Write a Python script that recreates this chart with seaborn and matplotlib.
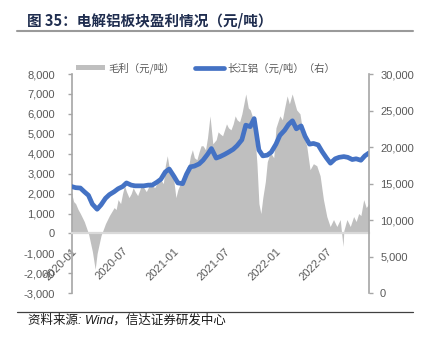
import matplotlib
matplotlib.use("Agg")
import matplotlib.pyplot as plt
from matplotlib.lines import Line2D
from matplotlib.patches import Patch
from matplotlib.ticker import FuncFormatter, FixedLocator
import seaborn as sns
import pandas as pd

# ---------------- data ----------------
profit_dates = [
    "2020-01-01", "2020-01-08", "2020-01-15", "2020-01-24", "2020-02-01", "2020-02-15",
    "2020-03-01", "2020-03-15", "2020-03-25", "2020-04-01", "2020-04-15", "2020-05-01",
    "2020-05-08", "2020-05-15", "2020-06-01", "2020-06-08", "2020-06-15", "2020-06-24",
    "2020-07-01", "2020-07-08", "2020-07-15", "2020-07-24", "2020-08-01", "2020-08-08",
    "2020-08-15", "2020-08-24", "2020-09-01", "2020-09-08", "2020-09-15", "2020-09-24",
    "2020-10-01", "2020-10-08", "2020-10-15", "2020-10-24", "2020-11-01", "2020-11-08",
    "2020-11-15", "2020-11-24", "2020-12-01", "2020-12-08", "2020-12-15", "2020-12-24",
    "2021-01-01", "2021-01-08", "2021-01-15", "2021-01-24", "2021-02-01", "2021-02-08",
    "2021-02-15", "2021-02-24", "2021-03-01", "2021-03-08", "2021-03-15", "2021-03-24",
    "2021-04-01", "2021-04-08", "2021-04-15", "2021-04-24", "2021-05-01", "2021-05-10",
    "2021-05-20", "2021-06-01", "2021-06-08", "2021-06-15", "2021-06-24", "2021-07-01",
    "2021-07-08", "2021-07-15", "2021-07-24", "2021-08-01", "2021-08-08", "2021-08-15",
    "2021-08-24", "2021-09-01", "2021-09-08", "2021-09-15", "2021-09-24", "2021-10-01",
    "2021-10-08", "2021-10-15", "2021-10-25", "2021-11-01", "2021-11-08", "2021-11-15",
    "2021-11-24", "2021-12-01", "2021-12-08", "2021-12-15", "2021-12-24", "2022-01-01",
    "2022-01-08", "2022-01-15", "2022-01-24", "2022-02-01", "2022-02-10", "2022-02-18",
    "2022-02-28", "2022-03-08", "2022-03-16", "2022-03-28", "2022-04-09", "2022-04-21",
    "2022-05-03", "2022-05-15", "2022-05-27", "2022-06-08", "2022-06-20", "2022-07-02",
    "2022-07-14", "2022-07-26", "2022-08-07", "2022-08-19", "2022-08-29", "2022-09-01",
    "2022-09-12", "2022-09-24", "2022-10-06", "2022-10-15", "2022-10-24", "2022-11-01",
    "2022-11-11", "2022-11-20", "2022-11-30",
]
profit_values = [
    2000, 1600, 1500, 1200, 1000, 600,
    0, -900, -1800, -1000, -100, 500,
    700, 900, 1300, 1200, 1700, 1500,
    2000, 2400, 2100, 1800, 2000, 2300,
    2100, 1900, 2200, 2500, 2300, 2100,
    2300, 2600, 2400, 2300, 2500, 2800,
    2700, 2500, 3400, 3900, 3300, 3000,
    2600, 1800, 2200, 2500, 2800, 2600,
    3300, 3500, 3900, 4200, 3800, 3700,
    4100, 4400, 4400, 4200, 4800, 5900,
    4500, 4700, 5100, 5000, 4900, 5200,
    5500, 5300, 5200, 5500, 5900, 5700,
    5600, 6000, 6500, 7000, 6300, 6200,
    5900, 5400, 3500, 1500, 1000, 1800,
    2600, 3600, 3900, 4000, 3800, 5300,
    5600, 5900, 5700, 6300, 6900, 6500,
    7000, 6600, 6200, 6000, 4900, 4400,
    3200, 3500, 3400, 2900, 1700, 850,
    350, 700, 350, 700, -650, 150,
    700, 350, 850, 600, 1000, 900,
    1700, 1300, 1500,
]

price_dates = [
    "2020-01-01", "2020-01-15", "2020-02-01", "2020-02-15", "2020-03-01", "2020-03-15",
    "2020-04-01", "2020-04-15", "2020-05-01", "2020-05-15", "2020-06-01", "2020-06-15",
    "2020-07-01", "2020-07-15", "2020-08-01", "2020-08-15", "2020-09-01", "2020-09-15",
    "2020-10-01", "2020-10-15", "2020-11-01", "2020-11-15", "2020-12-01", "2020-12-15",
    "2021-01-01", "2021-01-15", "2021-02-01", "2021-02-15", "2021-03-01", "2021-03-15",
    "2021-04-01", "2021-04-15", "2021-05-01", "2021-05-15", "2021-06-01", "2021-06-15",
    "2021-07-01", "2021-07-15", "2021-08-01", "2021-08-15", "2021-09-01", "2021-09-15",
    "2021-10-01", "2021-10-15", "2021-11-01", "2021-11-15", "2021-12-01", "2021-12-15",
    "2022-01-01", "2022-01-15", "2022-02-01", "2022-02-15", "2022-03-01", "2022-03-15",
    "2022-04-01", "2022-04-15", "2022-05-01", "2022-05-15", "2022-06-01", "2022-06-15",
    "2022-07-01", "2022-07-15", "2022-08-01", "2022-08-15", "2022-09-01", "2022-09-15",
    "2022-10-01", "2022-10-15", "2022-11-01", "2022-11-15", "2022-11-30",
]
price_values = [
    14600, 14450, 14400, 13900, 13400, 12200,
    11500, 12100, 13000, 13500, 13900, 14300,
    14600, 15100, 14800, 14700, 14700, 14700,
    14800, 14800, 15200, 15600, 16600, 17000,
    16000, 15100, 15000, 16300, 17300, 17400,
    17700, 18200, 19000, 19800, 18500, 18700,
    19000, 19300, 19700, 20200, 21000, 23000,
    22800, 23900, 19600, 18800, 18900, 19300,
    20400, 21600, 22300, 23100, 23600, 22500,
    22900, 21500, 20400, 20500, 20300, 19400,
    18500, 17800, 18400, 18600, 18700, 18600,
    18300, 18400, 18200, 18800, 19200,
]

x_tick_labels = ["2020-01", "2020-07", "2021-01", "2021-07", "2022-01", "2022-07"]
left_ticks = [8000, 7000, 6000, 5000, 4000, 3000, 2000, 1000, 0, -1000, -2000, -3000]
right_ticks = [30000, 25000, 20000, 15000, 10000, 5000, 0]

title_text = "图 35：电解铝板块盈利情况（元/吨）"
legend_profit = "毛利（元/吨）"
legend_price = "长江铝（元/吨）（右）"
source_text = "资料来源: Wind，信达证券研发中心"

# ---------------- style ----------------
sns.set_style("white")
plt.rcParams["font.family"] = ["Liberation Sans", "Noto Sans CJK SC", "DejaVu Sans"]

W, H = 429, 344
fig = plt.figure(figsize=(W / 100, H / 100), dpi=100)

ax = fig.add_axes([71.7 / W, 1 - 293.3 / H, (369 - 71.7) / W, (293.3 - 74) / H])
ax2 = ax.twinx()

pdf = pd.DataFrame({"date": pd.to_datetime(profit_dates), "profit": profit_values})
qdf = pd.DataFrame({"date": pd.to_datetime(price_dates), "price": price_values})

gray = "#BFBFBF"
blue = "#4472C4"
tick_gray = "#595959"
spine_gray = "#A6A6A6"

ax.fill_between(pdf["date"], 0, pdf["profit"], color=gray, linewidth=0, zorder=1)
sns.lineplot(data=qdf, x="date", y="price", ax=ax2, color=blue, linewidth=3.4, legend=False)

ax.set_xlim(pd.Timestamp("2020-01-01"), pd.Timestamp("2022-11-30"))
ax.set_ylim(-3000, 8000)
ax2.set_ylim(0, 30000)

fmt = FuncFormatter(lambda v, p: f"{int(v):,}")
ax.yaxis.set_major_locator(FixedLocator(left_ticks))
ax.yaxis.set_major_formatter(fmt)
ax2.yaxis.set_major_locator(FixedLocator(right_ticks))
ax2.yaxis.set_major_formatter(fmt)

xt = pd.to_datetime([s + "-01" for s in x_tick_labels])
ax.set_xticks(xt)
ax.set_xticklabels(x_tick_labels)
ax.set_xlabel("")
ax.set_ylabel("")
ax2.set_xlabel("")
ax2.set_ylabel("")

for a in (ax, ax2):
    for s in a.spines.values():
        s.set_visible(False)

ax.spines["left"].set_visible(True)
ax.spines["left"].set_color(spine_gray)
ax.spines["left"].set_linewidth(1.2)
ax.spines["bottom"].set_visible(True)
ax.spines["bottom"].set_position(("data", 0))
ax.spines["bottom"].set_color("#D9D9D9")
ax.spines["bottom"].set_linewidth(1.6)
ax2.spines["right"].set_visible(True)
ax2.spines["right"].set_color(spine_gray)
ax2.spines["right"].set_linewidth(1.2)

ax.tick_params(axis="y", which="major", direction="out", length=3, width=1,
               color=spine_gray, labelcolor=tick_gray, labelsize=8, pad=9, left=True)
ax2.tick_params(axis="y", which="major", direction="out", length=3, width=1,
                color=spine_gray, labelcolor=tick_gray, labelsize=8, pad=5, right=True)
ax.tick_params(axis="x", which="major", length=0, labelcolor=tick_gray, labelsize=8, pad=9)
for lab in ax.get_xticklabels():
    lab.set_rotation(45)
    lab.set_ha("right")
    lab.set_va("top")
    lab.set_rotation_mode("anchor")
ax.grid(False)
ax2.grid(False)

# legend
handles = [Patch(facecolor=gray, edgecolor="none"),
           Line2D([0], [0], color=blue, linewidth=3.4)]
leg = fig.legend(handles, [legend_profit, legend_price], ncol=2, loc="center left",
                 bbox_to_anchor=(76 / W, 1 - 68.3 / H), frameon=False,
                 borderaxespad=0, borderpad=0, handlelength=2.8, handleheight=0.35,
                 handletextpad=0.35, columnspacing=1.9,
                 prop={"family": ["Noto Sans CJK SC", "DejaVu Sans"], "size": 7.5})
for t in leg.get_texts():
    t.set_color(tick_gray)

# title, rules, source
fig.text(27 / W, 1 - 20.5 / H, title_text, fontsize=10.5, fontweight="bold",
         color="#1F2D4F", va="center", ha="left",
         family=["Noto Sans CJK SC", "DejaVu Sans"])
fig.add_artist(Line2D([17 / W, 413 / W], [1 - 31 / H, 1 - 31 / H],
                      color="#9A9A9A", linewidth=1.5, transform=fig.transFigure))
fig.add_artist(Line2D([17 / W, 413 / W], [1 - 311.5 / H, 1 - 311.5 / H],
                      color="#404040", linewidth=0.9, transform=fig.transFigure))
fig.text(28 / W, 1 - 320.5 / H, source_text, fontsize=9, style="italic",
         color="#1A1A1A", va="center", ha="left",
         family=["Liberation Sans", "Noto Sans CJK SC", "DejaVu Sans"])

fig.savefig("out.png", dpi=100)
